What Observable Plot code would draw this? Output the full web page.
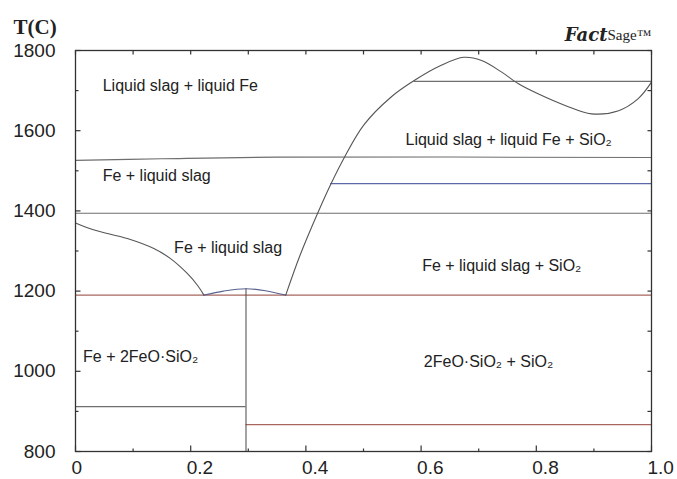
<!DOCTYPE html>
<html>
<head>
<meta charset="utf-8">
<script src="https://cdn.jsdelivr.net/npm/d3@7"></script>
<script src="https://cdn.jsdelivr.net/npm/@observablehq/plot@0.6"></script>
<style>
  body { margin: 0; background: #fff; }
  #chart svg { display: block; }
</style>
</head>
<body>
<div id="chart"></div>
<script>
// ---- tick definitions ----
const xMajor = [0, 0.2, 0.4, 0.6, 0.8, 1.0];
const xMinor = [0.1, 0.3, 0.5, 0.7, 0.9];
const xTickLabels = ["0", "0.2", "0.4", "0.6", "0.8", "1.0"];
const yMajor = [800, 1000, 1200, 1400, 1600, 1800];
const yMinor = [900, 1100, 1300, 1500, 1700];

// ---- phase boundary curves [x, T] ----
const leftLiquidus = [[0, 1370], [0.031, 1353], [0.09, 1331], [0.136, 1306], [0.165, 1281], [0.194, 1244], [0.212, 1214], [0.223, 1190]];
const fayaliteHump = [[0.223, 1190], [0.257, 1200], [0.296, 1206], [0.33, 1201], [0.365, 1190]];
const rightLiquidus = [[0.365, 1190], [0.39, 1290], [0.42, 1393], [0.443, 1466], [0.467, 1534], [0.501, 1615], [0.548, 1684], [0.588, 1725], [0.635, 1763], [0.674, 1783], [0.705, 1775], [0.74, 1746], [0.769, 1717], [0.803, 1692], [0.85, 1663], [0.896, 1642], [0.943, 1650], [0.977, 1680], [1.0, 1721]];
const feMeltLine = [[0, 1526], [0.15, 1530], [0.35, 1534], [1.0, 1533]];

// ---- isotherms: [x1, x2, T, kind] ----
const isotherms = [
  [0.588, 1.0, 1723, "gray"],
  [0.443, 1.0, 1468, "blue"],
  [0.0, 1.0, 1394, "gray"],
  [0.0, 1.0, 1190, "red"],
  [0.0, 0.296, 912, "gray"],
  [0.296, 1.0, 867, "red"]
];
const verticals = [[0.296, 800, 1206]];

// ---- region labels ----
const labels = [
  {x: 0.182, y: 1713, text: "Liquid slag + liquid Fe"},
  {x: 0.752, y: 1576, text: "Liquid slag + liquid Fe + SiO₂"},
  {x: 0.141, y: 1488, text: "Fe + liquid slag"},
  {x: 0.265, y: 1309, text: "Fe + liquid slag"},
  {x: 0.740, y: 1264, text: "Fe + liquid slag + SiO₂"},
  {x: 0.113, y: 1035, text: "Fe + 2FeO·SiO₂"},
  {x: 0.717, y: 1023, text: "2FeO·SiO₂ + SiO₂"}
];

const lineColor = {gray: "#6e6e6e", blue: "#5a68a8", red: "#a8665e"};
const font = "'Liberation Sans', Arial, sans-serif";

const toPts = a => a.map(([x, y]) => ({x, y}));
// custom tick "symbol": a short straight stroke from the anchor point
const tickSym = (dx, dy) => ({draw(ctx) { ctx.moveTo(0, 0); ctx.lineTo(dx, dy); }});
const tickStyle = {stroke: "#333", fill: "none", strokeWidth: 1.2};

const chart = Plot.plot({
  width: 677,
  height: 479,
  marginLeft: 75,
  marginRight: 26,
  marginTop: 50,
  marginBottom: 28,
  style: {fontFamily: font, background: "#fff"},
  x: {domain: [0, 1]},
  y: {domain: [800, 1800]},
  marks: [
    // isotherms
    Plot.ruleY(isotherms, {y: d => d[2], x1: d => d[0], x2: d => d[1], stroke: d => lineColor[d[3]], strokeWidth: 1.1}),
    Plot.ruleX(verticals, {x: d => d[0], y1: d => d[1], y2: d => d[2], stroke: "#555", strokeWidth: 1.1}),
    Plot.line(toPts(feMeltLine), {x: "x", y: "y", stroke: "#6e6e6e", strokeWidth: 1.1, curve: "catmull-rom"}),
    // curves
    Plot.line(toPts(leftLiquidus), {x: "x", y: "y", stroke: "#555", strokeWidth: 1.1, curve: "catmull-rom"}),
    Plot.line(toPts(fayaliteHump), {x: "x", y: "y", stroke: "#5a6290", strokeWidth: 1.1, curve: "catmull-rom"}),
    Plot.line(toPts(rightLiquidus), {x: "x", y: "y", stroke: "#555", strokeWidth: 1.1, curve: "catmull-rom"}),
    // region labels
    Plot.text(labels, {x: "x", y: "y", text: "text", fontSize: 16, fill: "#222", fontFamily: font}),
    // frame
    Plot.frame({stroke: "#333", strokeWidth: 1.3}),
    // inward ticks
    Plot.dot(xMajor, {x: d => d, frameAnchor: "bottom", symbol: tickSym(0, -6), ...tickStyle}),
    Plot.dot(xMinor, {x: d => d, frameAnchor: "bottom", symbol: tickSym(0, -3), ...tickStyle}),
    Plot.dot(xMajor.concat(xMinor), {x: d => d, frameAnchor: "top", symbol: tickSym(0, 4), ...tickStyle}),
    Plot.dot(yMajor, {y: d => d, frameAnchor: "left", symbol: tickSym(5, 0), ...tickStyle}),
    Plot.dot(yMinor, {y: d => d, frameAnchor: "left", symbol: tickSym(3, 0), ...tickStyle}),
    Plot.dot(yMajor.concat(yMinor), {y: d => d, frameAnchor: "right", symbol: tickSym(-4, 0), ...tickStyle}),
    // tick labels
    Plot.axisX(xMajor, {anchor: "bottom", tickSize: 0, tickFormat: d => xTickLabels[xMajor.indexOf(d)], tickPadding: 9, fontSize: 19, textAnchor: "start", dx: -4, label: null, fill: "#222"}),
    Plot.axisY(yMajor, {anchor: "left", tickSize: 0, tickPadding: 20, fontSize: 19, tickFormat: d => String(d), label: null, fill: "#222"}),
    // title T(C)
    Plot.text(["T(C)"], {frameAnchor: "top-left", text: d => d, textAnchor: "start", dx: -62, dy: -31, fontSize: 21, fontWeight: "bold", fontFamily: "'Liberation Serif', 'Times New Roman', serif", fill: "#222"}),
    // FactSage logo text
    Plot.text(["Fact"], {frameAnchor: "top-right", text: d => d, dx: -44, dy: -22, textAnchor: "end", fontSize: 18, fontWeight: "bold", fontStyle: "italic", fontFamily: "'DejaVu Serif', serif", fill: "#222"}),
    Plot.text(["Sage™"], {frameAnchor: "top-right", text: d => d, dx: -44, dy: -21, textAnchor: "start", fontSize: 15, fontFamily: "'Liberation Serif', serif", fill: "#222"})
  ]
});

document.getElementById("chart").appendChild(chart);
</script>
</body>
</html>
